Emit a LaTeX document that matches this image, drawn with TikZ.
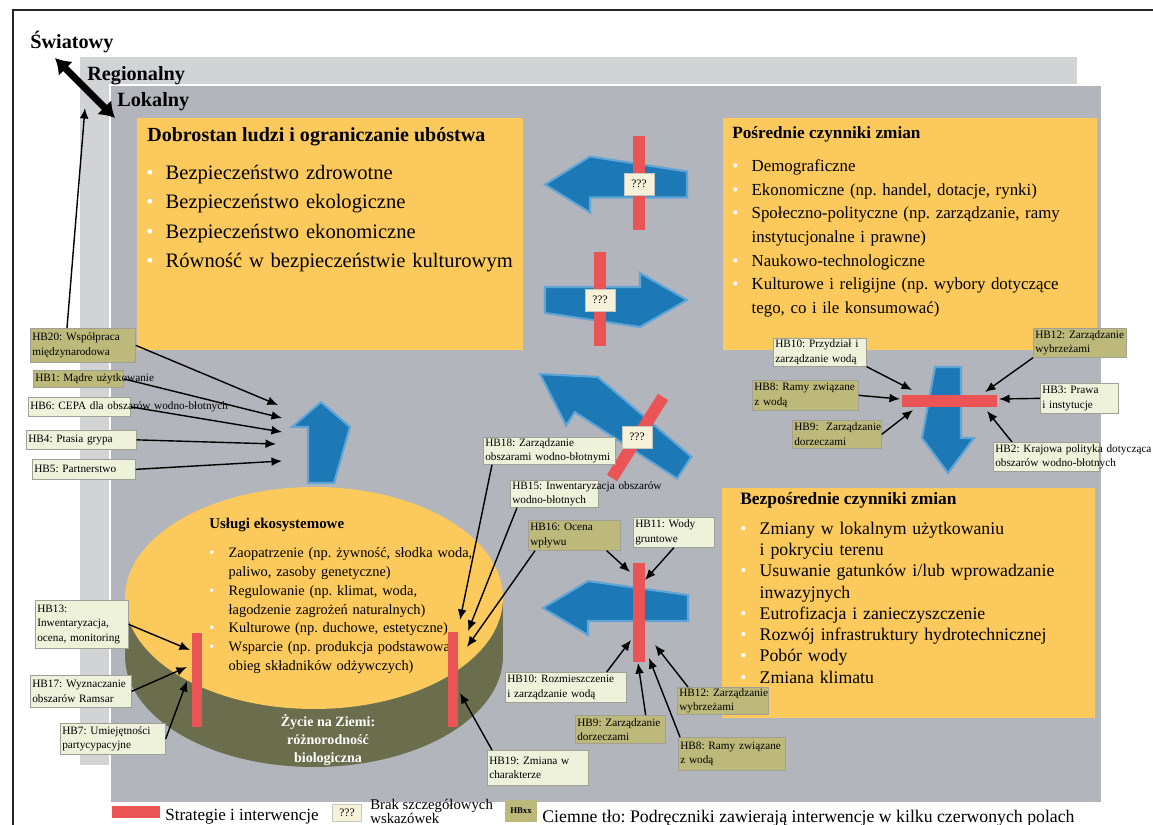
\documentclass[tikz,border=0pt]{standalone}
\usepackage{fontspec}
\setmainfont{Liberation Serif}
\usetikzlibrary{arrows.meta,calc,shadows}
\frenchspacing
\definecolor{localGray}{RGB}{179,181,188}
\definecolor{regionGray}{RGB}{210,211,213}
\definecolor{panelYellow}{RGB}{252,201,92}
\definecolor{earthOlive}{RGB}{106,110,77}
\definecolor{flowBlue}{RGB}{28,121,181}
\definecolor{flowEdge}{RGB}{96,165,214}
\definecolor{barRed}{RGB}{234,84,84}
\definecolor{hbLight}{RGB}{238,242,219}
\definecolor{hbDark}{RGB}{189,185,122}
\definecolor{hbEdge}{RGB}{160,160,150}
\definecolor{qFill}{RGB}{246,242,218}
\newcommand{\hbfont}{\fontsize{6.4}{8.2}\selectfont}
\newcommand{\bul}{\noindent\hangindent=11pt\strut\makebox[11pt][l]{\textcolor{white}{\textbullet}}}
% blue flow arrow: tip, angle, length, head length, head half width
\newcommand{\flowarrow}[5]{%
  \filldraw[flow, shift={(#1)}, rotate=#2]
    (0,0) -- (#4,#5) -- (#4,13) -- (#3,13) -- (#3,-13) -- (#4,-#5) -- cycle;}
\tikzset{
    every node/.append style={inner sep=0pt},
    flow/.style={fill=flowBlue,draw=flowEdge,line width=1.2pt},
    redbar/.style={draw=barRed,line width=0.24cm},
    hb/.style={anchor=north west,draw=hbEdge,line width=0.4pt,inner xsep=0.04cm,inner ysep=0.02cm,
        align=left,font=\hbfont,drop shadow={shadow xshift=0.6pt,shadow yshift=-0.6pt,opacity=0.3}},
    hbl/.style={hb,fill=hbLight},
    hbd/.style={hb,fill=hbDark},
    qbox/.style={fill=qFill,draw=hbEdge!60,line width=0.3pt,minimum width=0.6cm,minimum height=0.44cm,
        font=\fontsize{6.5}{7}\selectfont},
    arr/.style={-{Latex[length=6pt,width=5pt]},line width=0.8pt},
    scalearr/.style={{Latex[length=8.5pt,width=11.5pt]}-{Latex[length=8.5pt,width=11.5pt]},line width=4pt},
    scalelbl/.style={anchor=base west,font=\bfseries\fontsize{11.5}{12}\selectfont},
    paneltitle/.style={anchor=base west,font=\bfseries\fontsize{#1}{#1}\selectfont},
    itemlist/.style={anchor=north west,align=left,text width=8cm}
}

\begin{document}
\begin{tikzpicture}[x=0.02cm,y=-0.02cm]
    \useasboundingbox (0,0) rectangle (1153,825);
    \clip (0,0) rectangle (1153,825);
    \fill[white] (0,0) rectangle (1153,825);
    % frame and scale levels
    \draw[line width=1.6pt,black!85] (13,830) -- (13,10) -- (1160,10);
    \fill[regionGray] (80,57) rectangle (1077,765);
    \filldraw[fill=localGray,draw=white,line width=1pt] (110,85) rectangle (1102,803);
    \node[scalelbl] (global)   at (30,48)  {Światowy};
    \node[scalelbl] (regional) at (87,80)  {Regionalny};
    \node[scalelbl] (local)    at (117,106) {Lokalny};
    \coordinate (scaleTop) at (55,58);
    \coordinate (scaleBot) at (115,118);
    \coordinate (scaleIn)  at (85,108);
    \draw[scalearr] (scaleTop) -- (scaleBot);

    % yellow panels
    \fill[panelYellow] (137,118) rectangle (523,350);
    \fill[panelYellow] (723,118) rectangle (1097,350);
    \fill[panelYellow] (722,488) rectangle (1095,718);
    \node[paneltitle=11.4] (wellTitle) at (147,141) {Dobrostan ludzi i ograniczanie ubóstwa};
    \node[itemlist,font=\fontsize{11.7}{16.8}\selectfont] (wellList) at (146,158.3) {%
        \bul Bezpieczeństwo zdrowotne\par
        \bul Bezpieczeństwo ekologiczne\par
        \bul Bezpieczeństwo ekonomiczne\par
        \bul Równość w bezpieczeństwie kulturowym\par};
    \node[paneltitle=9.8] (indirTitle) at (732,138) {Pośrednie czynniki zmian};
    \node[itemlist,font=\fontsize{9.6}{13.5}\selectfont] (indirList) at (732,154.4) {%
        \bul Demograficzne\par
        \bul Ekonomiczne (np. handel, dotacje, rynki)\par
        \bul Społeczno-polityczne (np. zarządzanie, ramy\newline instytucjonalne i prawne)\par
        \bul Naukowo-technologiczne\par
        \bul Kulturowe i religijne (np. wybory dotyczące\newline tego, co i ile konsumować)\par};
    \node[paneltitle=9.9] (dirTitle) at (740,504) {Bezpośrednie czynniki zmian};
    \node[itemlist,font=\fontsize{10.1}{12.1}\selectfont] (dirList) at (740,519) {%
        \bul Zmiany w lokalnym użytkowaniu\newline i pokryciu terenu\par
        \bul Usuwanie gatunków i/lub wprowadzanie\newline inwazyjnych\par
        \bul Eutrofizacja i zanieczyszczenie\par
        \bul Rozwój infrastruktury hydrotechnicznej\par
        \bul Pobór wody\par
        \bul Zmiana klimatu\par};

    % ecosystem cylinder
    \fill[earthOlive] (125,598) rectangle (503,656);
    \fill[earthOlive] (314,656) ellipse [x radius=3.78cm,y radius=2.22cm];
    \fill[panelYellow] (314,598) ellipse [x radius=3.78cm,y radius=2.22cm];
    \node[paneltitle=8.5] (servTitle) at (209,528) {Usługi ekosystemowe};
    \node[itemlist,font=\fontsize{8.2}{10.75}\selectfont] (servList) at (209,543.8) {%
        \bul Zaopatrzenie (np. żywność, słodka woda,\newline paliwo, zasoby genetyczne)\par
        \bul Regulowanie (np. klimat, woda,\newline łagodzenie zagrożeń naturalnych)\par
        \bul Kulturowe (np. duchowe, estetyczne)\par
        \bul Wsparcie (np. produkcja podstawowa,\newline obieg składników odżywczych)\par};
    \node[font=\bfseries\fontsize{8}{10.2}\selectfont,text=white,align=center] (life) at (328,740)
        {Życie na Ziemi:\\różnorodność\\biologiczna};

    % flows between boxes
    \flowarrow{545,184.5}{0}{142}{45}{28}
    \flowarrow{687,300}{180}{142}{47}{27}
    \flowarrow{540,374}{-33}{172}{50}{29}
    \flowarrow{321,402}{-90}{81}{25}{29}
    \flowarrow{948,473}{90}{106}{35}{26}
    \flowarrow{543,608}{0}{145}{45}{27}

    % strategies and interventions
    \draw[redbar,line width=0.2cm] (197,633) -- (197,727);
    \draw[redbar,line width=0.2cm] (453,632) -- (453,727);
    \draw[redbar] (639,136) -- (639,230);
    \draw[redbar] (599.5,252) -- (599.5,346);
    \draw[redbar] (663,397) -- (612,478);
    \draw[redbar] (902,401) -- (997,401);
    \draw[redbar] (639,563) -- (639,662);
    \node[qbox] (q1) at (639,184) {???};
    \node[qbox] (q2) at (600,300) {???};
    \node[qbox] (q3) at (637,437) {???};

    % handbooks
    \node[hbd,text width=2.02cm,minimum height=0.68cm] (hb20) at (30,328) {HB20:~Współpraca\\międzynarodowa};
    \node[hbd,text width=1.72cm,minimum height=0.34cm] (hb1) at (33,370) {\rlap{HB1: Mądre użytkowanie}};
    \node[hbl,text width=1.96cm,minimum height=0.38cm] (hb6) at (28,397) {\rlap{HB6: CEPA dla obszarów wodno-błotnych}};
    \node[hbl,text width=2.12cm,minimum height=0.38cm] (hb4) at (26,430) {HB4:~Ptasia~grypa};
    \node[hbl,text width=1.98cm,minimum height=0.40cm] (hb5) at (32,459) {HB5:~Partnerstwo};
    \node[hbl,text width=1.78cm,minimum height=0.96cm] (hb13) at (35,600) {HB13:\\Inwentaryzacja,\\ocena,~monitoring};
    \node[hbl,text width=1.94cm,minimum height=0.64cm] (hb17) at (30,675) {HB17:~Wyznaczanie\\obszarów~Ramsar};
    \node[hbl,text width=2.02cm,minimum height=0.62cm] (hb7) at (60,723) {HB7:~Umiejętności\\partycypacyjne};
    \node[hbl,text width=2.56cm,minimum height=0.54cm] (hb18) at (483,437) {HB18:~Zarządzanie\\obszarami~wodno-błotnymi};
    \node[hbl,text width=1.68cm,minimum height=0.54cm] (hb15) at (510,480) {\rlap{HB15: Inwentaryzacja obszarów}\\wodno-błotnych};
    \node[hbd,text width=1.76cm,minimum height=0.60cm] (hb16) at (528,520) {HB16:~Ocena\\wpływu};
    \node[hbl,text width=1.54cm,minimum height=0.60cm] (hb11) at (633,517) {HB11:~Wody\\gruntowe};
    \node[hbl,text width=1.94cm,minimum height=0.70cm] (hb19) at (487,750) {HB19:~Zmiana~w\\charakterze};
    \node[hbl,text width=2.34cm,minimum height=0.60cm] (hb10b) at (505,672) {HB10:~Rozmieszczenie\\i~zarządzanie~wodą};
    \node[hbd,text width=1.72cm,minimum height=0.56cm] (hb9b) at (575,715) {HB9:~Zarządzanie\\dorzeczami};
    \node[hbd,text width=1.74cm,minimum height=0.52cm] (hb12b) at (677,687) {HB12:~Zarządzanie\\wybrzeżami};
    \node[hbd,text width=2.06cm,minimum height=0.66cm] (hb8b) at (678,737) {HB8:~Ramy~związane\\z~wodą};
    \node[hbl,text width=1.78cm,minimum height=0.56cm] (hb10t) at (773,338) {HB10:~Przydział~i\\zarządzanie~wodą};
    \node[hbd,text width=1.78cm,minimum height=0.58cm] (hb12t) at (1033,328) {HB12:~Zarządzanie\\wybrzeżami};
    \node[hbd,text width=2.04cm,minimum height=0.60cm] (hb8t) at (752,380) {HB8:~Ramy~związane\\z~wodą};
    \node[hbl,text width=1.48cm,minimum height=0.60cm] (hb3) at (1040,383) {HB3:~Prawa\\i~instytucje};
    \node[hbd,text width=1.70cm,minimum height=0.56cm] (hb9t) at (792,420) {HB9:~~Zarządzanie\\dorzeczami};
    \node[hbl,text width=2.04cm,minimum height=0.58cm] (hb2) at (993,442) {\rlap{HB2: Krajowa polityka dotycząca}\\\rlap{obszarów wodno-błotnych}};

    % arrow ends
    \coordinate (wellIn1) at (278,405);
    \coordinate (wellIn2) at (282,418);
    \coordinate (wellIn3) at (282,432);
    \coordinate (wellIn4) at (276,444);
    \coordinate (wellIn5) at (282,461);
    \coordinate (servL1) at (190,650);
    \coordinate (servL2) at (187,667);
    \coordinate (servL3) at (187,681);
    \coordinate (servR1) at (460,620);
    \coordinate (servR2) at (468,631);
    \coordinate (servR3) at (467,647);
    \coordinate (servR4) at (460,693);
    \coordinate (dirBar1) at (630,572);
    \coordinate (dirBar2) at (645,580);
    \coordinate (dirBar3) at (631,640);
    \coordinate (dirBar4) at (638,663);
    \coordinate (dirBar5) at (649,658);
    \coordinate (dirBar6) at (655,645);
    \coordinate (indBar1) at (912,390);
    \coordinate (indBar2) at (985,392);
    \coordinate (indBar3) at (900,399);
    \coordinate (indBar4) at (999,399);
    \coordinate (indBar5) at (913,410);
    \coordinate (indBar6) at (987,411);

    \draw[arr] ($(hb20.north west)!0.35!(hb20.north east)$) -- (scaleIn);
    \draw[arr] (hb20.east) -- (wellIn1);
    \draw[arr] (hb1.east) -- (wellIn2);
    \draw[arr] (hb6.east) -- (wellIn3);
    \draw[arr] (hb4.east) -- (wellIn4);
    \draw[arr] (hb5.east) -- (wellIn5);
    \draw[arr] (hb13.east) -- (servL1);
    \draw[arr] (hb17.east) -- (servL2);
    \draw[arr] (hb7.east) -- (servL3);
    \draw[arr] ($(hb18.south west)+(9,0)$) -- (servR1);
    \draw[arr] ($(hb15.south west)+(7,0)$) -- (servR2);
    \draw[arr] ($(hb16.south west)+(7,0)$) -- (servR3);
    \draw[arr] ($(hb19.north west)+(5,0)$) -- (servR4);
    \draw[arr] ($(hb16.south east)+(-14,0)$) -- (dirBar1);
    \draw[arr] (hb11.south) -- (dirBar2);
    \draw[arr] ($(hb10b.north east)+(-20,0)$) -- (dirBar3);
    \draw[arr] ($(hb9b.north east)+(-20,0)$) -- (dirBar4);
    \draw[arr] ($(hb8b.north west)+(2,0)$) -- (dirBar5);
    \draw[arr] ($(hb12b.north west)+(11,0)$) -- (dirBar6);
    \draw[arr] (hb10t.south east) -- (indBar1);
    \draw[arr] (hb12t.south west) -- (indBar2);
    \draw[arr] (hb8t.east) -- (indBar3);
    \draw[arr] (hb3.west) -- (indBar4);
    \draw[arr] (hb9t.east) -- (indBar5);
    \draw[arr] ($(hb2.north west)+(19,0)$) -- (indBar6);

    % legend
    \draw[redbar] (112,812) -- (160,812);
    \node[anchor=base west,font=\fontsize{9.7}{10}\selectfont] (legStrat) at (165,820) {Strategie i interwencje};
    \node[qbox,minimum width=0.58cm,minimum height=0.34cm] (legQ) at (347,813) {???};
    \node[anchor=north west,align=left,font=\fontsize{8.4}{8}\selectfont] (legBrak) at (370,799) {Brak szczegółowych\\wskazówek};
    \node[fill=hbDark,minimum width=0.64cm,minimum height=0.44cm,font=\bfseries\fontsize{5}{5}\selectfont] (legHB) at (521,811) {HBxx};
    \node[anchor=base west,font=\fontsize{10.1}{11}\selectfont] (legDark) at (542,822)
        {Ciemne tło: Podręczniki zawierają interwencje w kilku czerwonych polach};
\end{tikzpicture}
\end{document}
